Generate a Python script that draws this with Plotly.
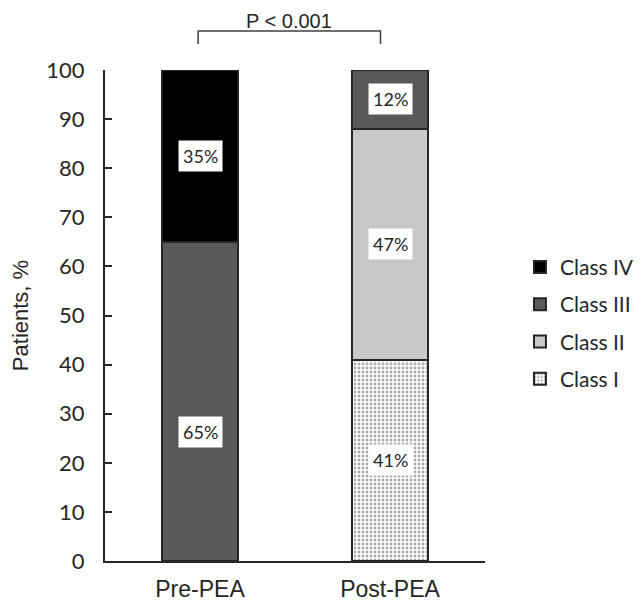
import plotly.graph_objects as go

categories = ["Pre-PEA", "Post-PEA"]
class_names = ["Class I", "Class II", "Class III", "Class IV"]
class_values = {
    "Class I": [0, 41],
    "Class II": [0, 47],
    "Class III": [65, 12],
    "Class IV": [35, 0],
}
y_ticks = [0, 10, 20, 30, 40, 50, 60, 70, 80, 90, 100]
p_text = "P < 0.001"

colors = {
    "Class I": "#ffffff",
    "Class II": "#c8c8c8",
    "Class III": "#595959",
    "Class IV": "#000000",
}

fig = go.Figure()

for rank, name in enumerate(class_names):
    marker = dict(color=colors[name], line=dict(color="#262626", width=2))
    if name == "Class I":
        marker["pattern"] = dict(shape=".", fgcolor="#555555", bgcolor="#ffffff",
                                 size=4, solidity=0.4)
    fig.add_trace(go.Bar(
        x=categories,
        y=class_values[name],
        name=name,
        marker=marker,
        width=0.4,
        legendgroup=name,
        legendrank=1000 - rank,
    ))

# white-boxed percentage labels at segment centres
for i, cat in enumerate(categories):
    base = 0
    for name in class_names:
        v = class_values[name][i]
        if v > 0:
            fig.add_annotation(
                x=cat, y=base + v / 2, xref="x", yref="y",
                text=f"{v}%", showarrow=False,
                font=dict(family="Lato, Carlito, sans-serif", size=18, color="#262626"),
                bgcolor="white", borderpad=4,
                yshift=-31 if (cat == "Pre-PEA" and name == "Class III") else 0,
            )
        base += v

# significance bracket
fig.add_shape(
    type="path", xref="x", yref="paper",
    path="M -0.01,1.053 L -0.01,1.0794 L 0.95,1.0794 L 0.95,1.053",
    line=dict(color="#404040", width=1.5),
)
fig.add_annotation(
    x=0.47, y=1.126, xref="x", yref="paper", text=p_text, showarrow=False,
    yanchor="top",
    font=dict(family="Liberation Sans, Arial, sans-serif", size=20, color="#262626"),
)

fig.update_layout(
    barmode="stack",
    width=644, height=607,
    margin=dict(l=97, r=167, t=62, b=54, autoexpand=False),
    plot_bgcolor="white", paper_bgcolor="white",
    showlegend=True,
    legend=dict(
        x=1.092, y=0.64, xanchor="left", yanchor="top",
        font=dict(family="Lato, Carlito, sans-serif", size=21, color="#262626"),
        tracegroupgap=7,
        itemwidth=30,
    ),
    xaxis=dict(
        range=[-0.5, 1.5], automargin=False,
        showline=True, linecolor="#262626", linewidth=2,
        ticks="", tickfont=dict(family="Liberation Sans, Arial, sans-serif", size=23, color="#262626"),
        ticklabelstandoff=6,
    ),
    yaxis=dict(
        range=[0, 100], tickvals=y_ticks, automargin=False,
        showgrid=False, zeroline=False,
        showline=True, linecolor="#262626", linewidth=2,
        ticks="inside", ticklen=7, tickcolor="#262626", tickwidth=2,
        tickfont=dict(family="Lato, Carlito, sans-serif", size=22, color="#262626"),
        ticklabelstandoff=14,
        title=dict(text="Patients, %", standoff=12,
                   font=dict(family="Liberation Sans, Arial, sans-serif", size=22, color="#262626")),
    ),
)

fig.write_html("out.html")
